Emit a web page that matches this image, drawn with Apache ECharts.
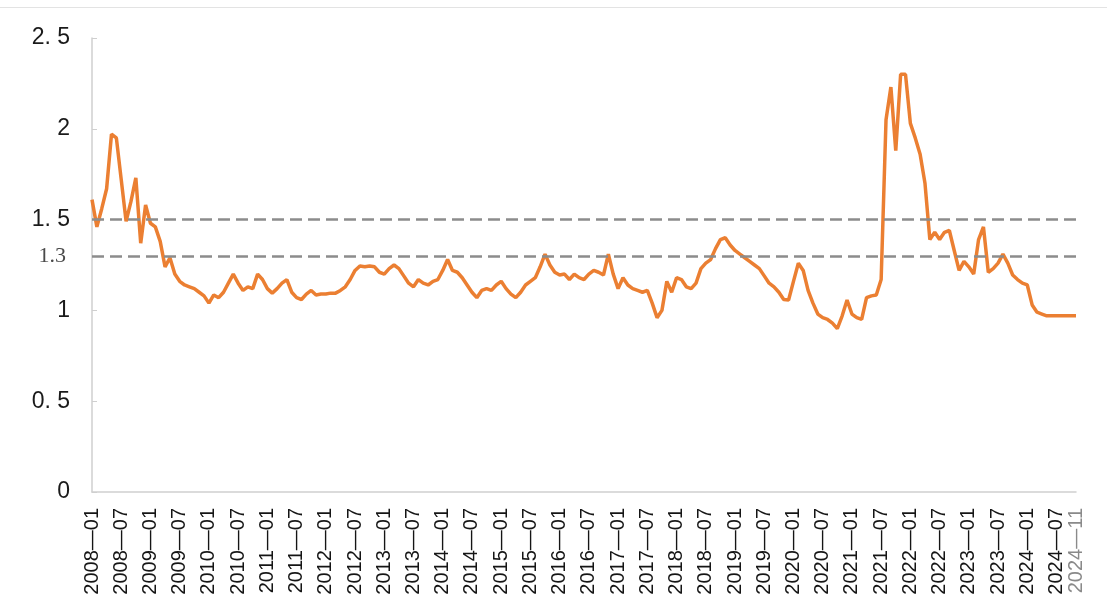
<!DOCTYPE html>
<html>
<head>
<meta charset="utf-8">
<script src="https://cdn.jsdelivr.net/npm/echarts@6/dist/echarts.min.js"></script>
<style>
  html, body { margin: 0; padding: 0; background: #fff; }
  #topline { position: absolute; left: 0; top: 7px; width: 1107px; height: 1px; background: #e3e3e3; }
  #chart { width: 1107px; height: 610px; }
</style>
</head>
<body>
<div id="topline"></div>
<div id="chart"></div>
<script>
// monthly categories 2008-01 .. 2024-11
var months = [];
for (var y = 2008; y <= 2024; y++) {
    for (var m = 1; m <= 12; m++) {
        if (y === 2024 && m > 11) break;
        months.push(y + '-' + (m < 10 ? '0' + m : m));
    }
}

var ratio = [
    1.61, 1.46, 1.56, 1.67, 1.97, 1.95, 1.72, 1.49, 1.60, 1.73, 1.37, 1.58,
    1.48, 1.46, 1.38, 1.24, 1.29, 1.20, 1.16, 1.14, 1.13, 1.12, 1.10, 1.08,
    1.04, 1.085, 1.07, 1.10, 1.15, 1.20, 1.15, 1.11, 1.13, 1.12, 1.20, 1.17,
    1.12, 1.095, 1.12, 1.15, 1.17, 1.10, 1.07, 1.06, 1.09, 1.11, 1.085, 1.09,
    1.09, 1.095, 1.095, 1.11, 1.13, 1.17, 1.22, 1.245, 1.24, 1.245, 1.24, 1.21,
    1.20, 1.23, 1.25, 1.23, 1.19, 1.15, 1.13, 1.17, 1.15, 1.14, 1.16, 1.17,
    1.22, 1.28, 1.22, 1.21, 1.18, 1.14, 1.10, 1.07, 1.11, 1.12, 1.11, 1.14,
    1.16, 1.12, 1.09, 1.07, 1.10, 1.14, 1.16, 1.18, 1.24, 1.31, 1.25, 1.21,
    1.195, 1.20, 1.17, 1.20, 1.18, 1.17, 1.20, 1.22, 1.21, 1.195, 1.31, 1.20,
    1.12, 1.18, 1.14, 1.12, 1.11, 1.10, 1.11, 1.04, 0.96, 1.00, 1.16, 1.10,
    1.18, 1.17, 1.13, 1.12, 1.15, 1.23, 1.26, 1.28, 1.34, 1.39, 1.40, 1.36,
    1.33, 1.31, 1.29, 1.27, 1.25, 1.23, 1.19, 1.15, 1.13, 1.10, 1.06, 1.057,
    1.16, 1.26, 1.22, 1.11, 1.04, 0.98, 0.96, 0.95, 0.93, 0.90, 0.97, 1.057,
    0.98, 0.96, 0.95, 1.07, 1.08, 1.085, 1.17, 2.05, 2.23, 1.88, 2.30, 2.30,
    2.03, 1.95, 1.86, 1.70, 1.39, 1.43, 1.39, 1.43, 1.44, 1.33, 1.22, 1.27,
    1.24, 1.20, 1.39, 1.46, 1.21, 1.23, 1.26, 1.31, 1.26, 1.195, 1.17, 1.15,
    1.14, 1.03, 0.99, 0.98, 0.97, 0.97, 0.97, 0.97, 0.97, 0.97, 0.97
];

var refLines = [1.5, 1.3];

var lastIdx = months.length - 1;

var labelBase = {
    rotate: 90,
    fontSize: 20,
    margin: 16,
    hideOverlap: false,
    formatter: function (v) { return v.replace('-', '\u2014'); }
};

var myChart = echarts.init(document.getElementById('chart'));
myChart.setOption({
    animation: false,
    textStyle: { fontFamily: 'Liberation Sans, Arial, sans-serif' },
    grid: { left: 92, right: 31, top: 38, bottom: 118 },
    xAxis: [
        {
            type: 'category',
            data: months,
            boundaryGap: false,
            axisLine: { lineStyle: { color: '#cfcfcf', width: 1.5 } },
            axisTick: { show: false },
            axisLabel: Object.assign({}, labelBase, {
                color: '#151515',
                interval: function (idx) { return idx % 6 === 0 && idx !== lastIdx; }
            })
        },
        {
            // second axis only carries the final month label (grey in the source)
            type: 'category',
            data: months,
            position: 'bottom',
            boundaryGap: false,
            axisLine: { show: false },
            axisTick: { show: false },
            axisLabel: Object.assign({}, labelBase, {
                color: '#8a8a8a',
                interval: function (idx) { return idx === lastIdx; }
            })
        }
    ],
    yAxis: {
        type: 'value',
        min: 0,
        max: 2.5,
        interval: 0.5,
        splitLine: { show: false },
        axisLine: { show: true, lineStyle: { color: '#cfcfcf', width: 1.5 } },
        axisTick: { show: true, inside: true, length: 5, lineStyle: { color: '#cfcfcf' } },
        axisLabel: {
            fontSize: 23,
            color: '#1a1a1a',
            margin: 22,
            formatter: function (v) { return String(v).replace('.', '. '); }
        }
    },
    series: [
        {
            type: 'line',
            xAxisIndex: 0,
            data: ratio,
            symbol: 'none',
            lineStyle: { color: '#EB7F32', width: 3.5 },
            markLine: {
                silent: true,
                symbol: 'none',
                lineStyle: { color: '#8c8c8c', width: 2.5, type: [12, 6] },
                data: [
                    { yAxis: refLines[0], label: { show: false } },
                    {
                        yAxis: refLines[1],
                        label: {
                            show: true,
                            position: 'start',
                            distance: 26,
                            formatter: '1.3',
                            fontSize: 22,
                            fontFamily: 'Liberation Serif, serif',
                            color: '#4a4a4a'
                        }
                    }
                ]
            }
        }
    ]
});
</script>
</body>
</html>
